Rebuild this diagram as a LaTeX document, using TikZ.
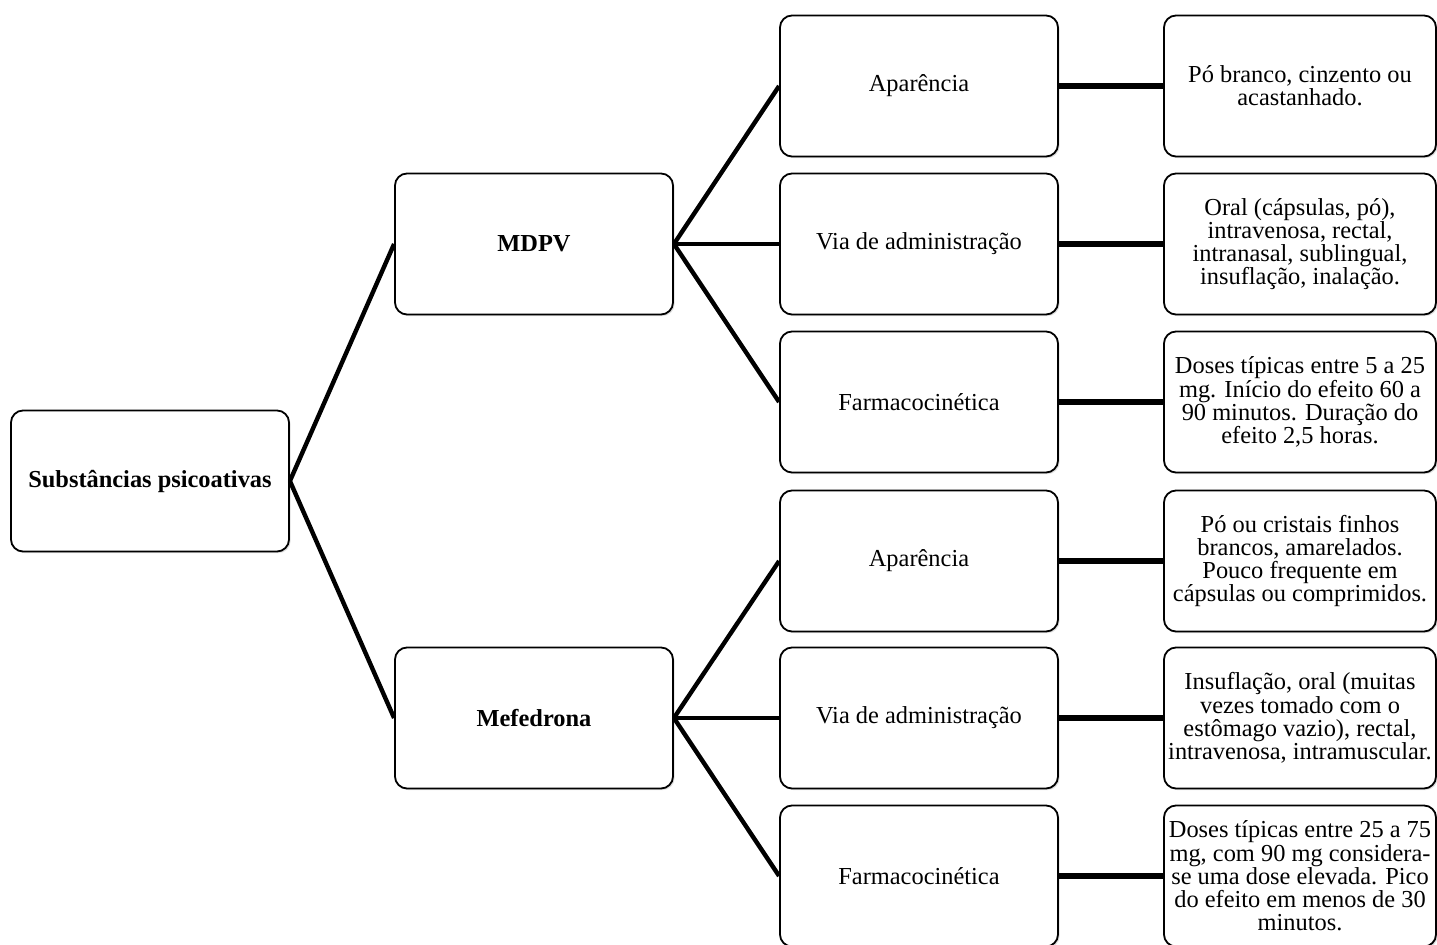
\documentclass[tikz,border=0pt]{standalone}
\usepackage{fontspec}
\setmainfont{Liberation Serif}
\usetikzlibrary{shadows}

\begin{document}
\begin{tikzpicture}
                \tikzset{x=0.5pt, y=0.5pt}
                \tikzstyle{box}=[rectangle, draw, line width=0.9pt, rounded corners=6pt, fill=white,
                                 minimum width=139pt, minimum height=70.5pt, align=center,
                                 font=\fontsize{12.2}{11.6}\selectfont,
                                 drop shadow={shadow xshift=0.8pt, shadow yshift=-0.8pt, opacity=0.25}]
                \tikzstyle{head}=[box, font=\fontsize{12.2}{11.6}\selectfont\bfseries]
                \tikzstyle{info}=[box, minimum width=136pt, inner sep=0.5pt]
                \tikzstyle{link}=[line width=2.2pt]
                \tikzstyle{leaf}=[line width=2.9pt]

                \useasboundingbox (0,0) rectangle (1437,944);

                \draw (150, 463)    node[head]  (sp)    {Substâncias psicoativas};

                \draw (534, 700)    node[head]  (mdpv)  {MDPV};
                \draw (534, 226)    node[head]  (mef)   {Mefedrona};

                \draw (919, 858)    node[box]   (ap1)   {Aparência};
                \draw (919, 700)    node[box]   (via1)  {Via de administração};
                \draw (919, 542)    node[box]   (fc1)   {Farmacocinética};
                \draw (919, 383)    node[box]   (ap2)   {Aparência};
                \draw (919, 226)    node[box]   (via2)  {Via de administração};
                \draw (919,  68)    node[box]   (fc2)   {Farmacocinética};

                \draw (1300, 858)   node[info]  (tap1)  {Pó branco, cinzento ou\\acastanhado.};
                \draw (1300, 700)   node[info]  (tvia1) {Oral (cápsulas, pó),\\intravenosa, rectal,\\intranasal, sublingual,\\insuflação, inalação.};
                \draw (1300, 542)   node[info]  (tfc1)  {Doses típicas entre 5 a 25\\mg. Início do efeito 60 a\\90 minutos. Duração do\\efeito 2,5 horas.};
                \draw (1300, 383)   node[info]  (tap2)  {Pó ou cristais finhos\\brancos, amarelados.\\Pouco frequente em\\cápsulas ou comprimidos.};
                \draw (1300, 226)   node[info]  (tvia2) {Insuflação, oral (muitas\\vezes tomado com o\\estômago vazio), rectal,\\intravenosa, intramuscular.};
                \draw (1300,  68)   node[info]  (tfc2)  {Doses típicas entre 25 a 75\\mg, com 90 mg considera-\\se uma dose elevada. Pico\\do efeito em menos de 30\\minutos.};

                \draw [link]        (sp.east) -- (mdpv.west);
                \draw [link]        (sp.east) -- (mef.west);

                \draw [link]        (mdpv.east) -- (ap1.west);
                \draw [link]        (mdpv.east) -- (via1.west);
                \draw [link]        (mdpv.east) -- (fc1.west);
                \draw [link]        (mef.east) -- (ap2.west);
                \draw [link]        (mef.east) -- (via2.west);
                \draw [link]        (mef.east) -- (fc2.west);

                \draw [leaf]        (ap1) -- (tap1);
                \draw [leaf]        (via1) -- (tvia1);
                \draw [leaf]        (fc1) -- (tfc1);
                \draw [leaf]        (ap2) -- (tap2);
                \draw [leaf]        (via2) -- (tvia2);
                \draw [leaf]        (fc2) -- (tfc2);
            \end{tikzpicture}
\end{document}
